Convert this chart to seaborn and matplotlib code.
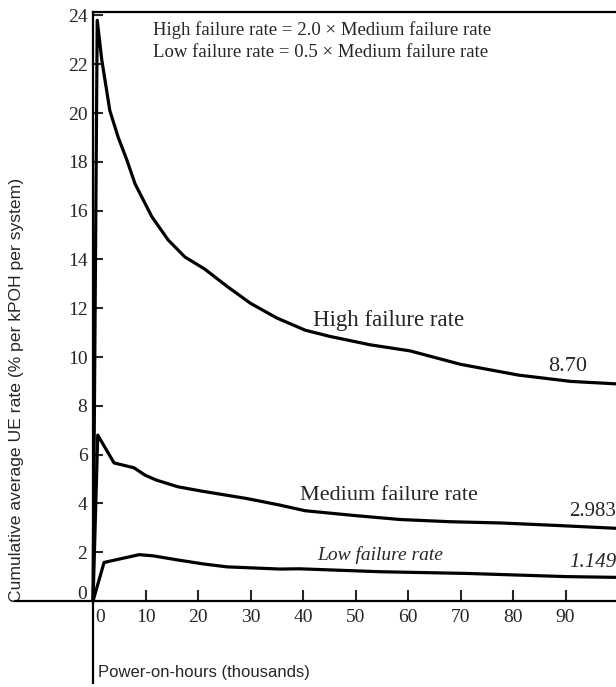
import matplotlib
matplotlib.use("Agg")
import matplotlib.pyplot as plt
import matplotlib.transforms as mtransforms
import seaborn as sns
import pandas as pd

# ---- data ----
high_x = [0, 0.8, 1.65, 3.2, 4.8, 6.4, 8.0, 11.2, 14.3, 17.5, 21.3, 25.5, 30, 35, 40.4, 45, 52.8, 60.4, 70, 81, 91, 99.6]
high_y = [0, 23.8, 22.2, 20.1, 19.0, 18.1, 17.1, 15.75, 14.8, 14.1, 13.6, 12.9, 12.2, 11.6, 11.1, 10.85, 10.5, 10.25, 9.7, 9.26, 9.0, 8.9]
med_x = [0, 0.9, 4.0, 7.8, 9.9, 12.0, 16.2, 20.8, 29.3, 35.6, 40.4, 50, 58.5, 68, 77.5, 88, 99.6]
med_y = [0, 6.8, 5.66, 5.46, 5.16, 4.96, 4.68, 4.5, 4.2, 3.93, 3.7, 3.5, 3.34, 3.25, 3.2, 3.1, 2.98]
low_x = [0, 2.1, 4.8, 8.8, 11.5, 16.2, 21.0, 25.5, 35.6, 39.4, 54.7, 71.2, 90.2, 99.6]
low_y = [0, 1.58, 1.71, 1.9, 1.85, 1.68, 1.52, 1.4, 1.31, 1.32, 1.2, 1.13, 1.0, 0.97]

series_names = ["High failure rate", "Medium failure rate", "Low failure rate"]
end_labels = ["8.70", "2.983", "1.149"]
x_ticks = [0, 10, 20, 30, 40, 50, 60, 70, 80, 90]
y_ticks = [0, 2, 4, 6, 8, 10, 12, 14, 16, 18, 20, 22, 24]
header_lines = ["High failure rate = 2.0 \u00d7 Medium failure rate",
                "Low failure rate = 0.5 \u00d7 Medium failure rate"]
x_label = "Power-on-hours (thousands)"
y_label = "Cumulative average UE rate (% per kPOH per system)"

rows = []
for name, xs, ys in zip(series_names, [high_x, med_x, low_x], [high_y, med_y, low_y]):
    for xv, yv in zip(xs, ys):
        rows.append({"hours": xv, "rate": yv, "series": name})
df = pd.DataFrame(rows)

sns.set_style("ticks")
plt.rcParams["font.family"] = ["Liberation Serif", "DejaVu Serif"]

W, H = 616, 687
fig = plt.figure(figsize=(W / 100, H / 100), dpi=100)
ax = fig.add_axes([15 / W, 4 / H, 1 - 15 / W, (683 - 12) / H])

sns.lineplot(data=df, x="hours", y="rate", hue="series", sort=False,
             palette=["black"] * 3, linewidth=2.3, legend=False, ax=ax,
             estimator=None)

ax.set_xlim(-14.86, 99.6)
ax.set_ylim(-3.36, 24.14)

for s in ["left", "bottom", "top"]:
    ax.spines[s].set_linewidth(1.6)
    ax.spines[s].set_color("black")
ax.spines["right"].set_visible(False)
ax.spines["left"].set_position(("data", 0))
ax.spines["bottom"].set_position(("data", 0))
ax.spines["top"].set_bounds(0, 99.6)

ax.set_xticks(x_ticks)
ax.set_yticks(y_ticks)
ax.tick_params(axis="x", direction="in", length=8, width=1.5, labelsize=14, pad=6)
ax.tick_params(axis="y", direction="in", length=7, width=1.5, labelsize=14, pad=4)
ax.xaxis.get_major_ticks()[0].tick1line.set_visible(False)
lab0 = ax.get_xticklabels()[0]
lab0.set_transform(lab0.get_transform() + mtransforms.ScaledTranslation(7 / 100, 0, fig.dpi_scale_trans))
ylab0 = ax.get_yticklabels()[0]
ylab0.set_transform(ylab0.get_transform() + mtransforms.ScaledTranslation(0, 9 / 100, fig.dpi_scale_trans))

ax.set_xlabel("")
ax.set_ylabel(y_label, family=["Liberation Sans", "DejaVu Sans"], fontsize=12.6)
ax.yaxis.set_label_coords(0.002, 0.437)
ax.yaxis.label.set_verticalalignment("center")
fig.text(98 / W, 1 - 673 / H, x_label, ha="left", va="center",
         family=["Liberation Sans", "DejaVu Sans"], fontsize=12)

for i, line in enumerate(header_lines):
    ax.text(11.4, 23.4 - 0.92 * i, line, ha="left", va="center", fontsize=13.5)

ax.text(41.9, 11.5, series_names[0], ha="left", va="center", fontsize=16.5)
ax.text(39.4, 4.34, series_names[1], ha="left", va="center", fontsize=16)
ax.text(42.7, 1.89, series_names[2], ha="left", va="center", fontsize=14, style="italic")
ax.text(86.7, 9.6, end_labels[0], ha="left", va="center", fontsize=16)
ax.text(99.6, 3.65, end_labels[1], ha="right", va="center", fontsize=15)
ax.text(99.6, 1.56, end_labels[2], ha="right", va="center", fontsize=15, style="italic")

fig.savefig("out.png", dpi=100)
